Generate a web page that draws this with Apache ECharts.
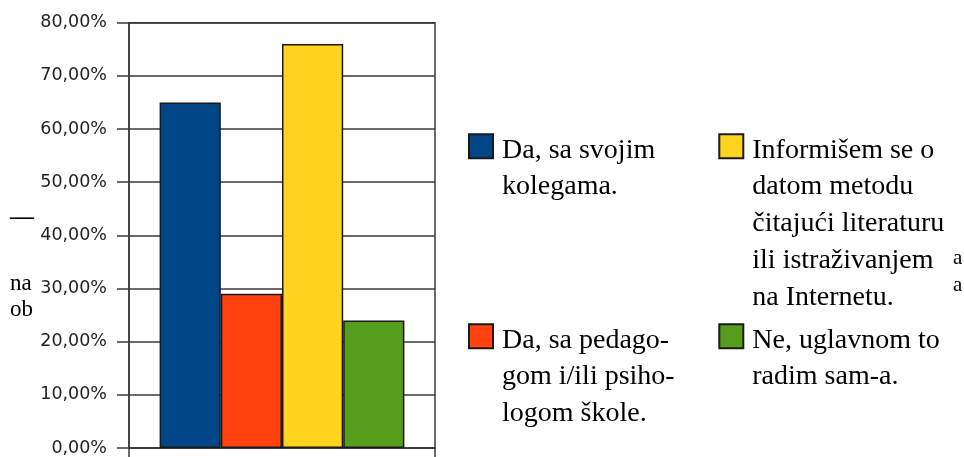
<!DOCTYPE html>
<html>
<head>
<meta charset="utf-8">
<script src="https://cdn.jsdelivr.net/npm/echarts@6/dist/echarts.min.js"></script>
<style>html,body{margin:0;padding:0;background:#fff}#c{width:964px;height:457px}</style>
</head>
<body>
<div id="c"></div>
<script>
// ---- data ----
var categories = [''];
var seriesNames = [
  'Da, sa svojim\nkolegama.',
  'Da, sa pedago-\ngom i/ili psiho-\nlogom škole.',
  'Informišem se o\ndatom metodu\nčitajući literaturu\nili istraživanjem\nna Internetu.',
  'Ne, uglavnom to\nradim sam-a.'
];
var blueValues = [0.65];
var orangeValues = [0.29];
var yellowValues = [0.76];
var greenValues = [0.24];
var yTickLabels = ['0,00%', '10,00%', '20,00%', '30,00%', '40,00%', '50,00%', '60,00%', '70,00%', '80,00%'];
var strayTexts = ['—', 'na', 'ob', 'a', 'a'];

// ---- styles ----
var colors = ['#004586', '#ff420e', '#ffd320', '#579d1c'];
var values = [blueValues, orangeValues, yellowValues, greenValues];
var lineCol = '#3a3a3a';
var LH = 36.7;
var SHIFT = 4; // text sits this much lower than icon centre
var CH = 457;
function legendFor(i, left, iconTop) {
  var lines = seriesNames[i].split('\n');
  var n = lines.length;
  var e = n > 1 ? 2 * SHIFT / (n - 1) : 0;
  var prefix = '';
  for (var j = 0; j < n - 1; j++) prefix += '{s|\u200b}\n';
  var H = (n - 1) * (LH + e) + n * LH;
  var bottomEdge = iconTop + 12 + H / 2;
  var base = {
    data: [seriesNames[i]],
    orient: 'horizontal',
    padding: 0,
    itemWidth: 24,
    itemHeight: 24,
    itemGap: 0,
    icon: 'rect',
    selectedMode: false,
    left: left,
    bottom: CH - bottomEdge,
    formatter: function (name) {
      return prefix + name.split('\n').map(function (l) { return '{t|' + l + '}'; }).join('\n');
    },
    textStyle: {
      fontFamily: 'Liberation Serif',
      fontSize: 28,
      color: '#000',
      rich: {
        s: { fontFamily: 'Liberation Serif', fontSize: 28, lineHeight: LH + e, color: '#000' },
        t: { fontFamily: 'Liberation Serif', fontSize: 28, lineHeight: LH, color: '#000', padding: [0, 0, 0, 4] }
      }
    }
  };
  return base;
}

var series = values.map(function (v, i) {
  return {
    name: seriesNames[i],
    type: 'bar',
    data: v,
    barGap: '0%',
    barCategoryGap: '20%',
    itemStyle: { color: colors[i], borderColor: '#1a1a1a', borderWidth: 1.5 }
  };
});

var chart = echarts.init(document.getElementById('c'), null, { renderer: 'canvas' });
chart.setOption({
  animation: false,
  backgroundColor: '#fff',
  grid: {
    left: 129, right: 529, top: 22.7, bottom: 8.7,
    show: true, borderColor: lineCol, borderWidth: 1.5, backgroundColor: 'transparent'
  },
  xAxis: {
    type: 'category',
    data: categories,
    axisLine: { show: true, lineStyle: { color: lineCol, width: 1.5 } },
    axisTick: { show: true, length: 10, lineStyle: { color: lineCol, width: 1.5 } },
    axisLabel: { show: false }
  },
  yAxis: {
    type: 'value',
    min: 0, max: 0.8, interval: 0.1,
    axisLine: { show: true, lineStyle: { color: lineCol, width: 1.5 } },
    axisTick: { show: true, length: 12, lineStyle: { color: lineCol, width: 1.5 } },
    splitLine: { show: true, lineStyle: { color: lineCol, width: 1.5 } },
    axisLabel: {
      margin: 22,
      fontFamily: 'DejaVu Sans',
      fontSize: 17.5,
      color: '#222',
      formatter: function (v) { return yTickLabels[Math.round(v * 10)]; }
    }
  },
  legend: [
    legendFor(0, 468, 130),
    legendFor(1, 468, 320),
    legendFor(2, 718.3, 130),
    legendFor(3, 718.3, 320)
  ],
  graphic: [
    { type: 'text', left: 10, top: 206, style: { text: strayTexts[0], font: 'bold 24px "Liberation Serif"', fill: '#000' } },
    { type: 'text', left: 10, top: 272, style: { text: strayTexts[1], font: '23px "Liberation Serif"', fill: '#000' } },
    { type: 'text', left: 10, top: 298, style: { text: strayTexts[2], font: '23px "Liberation Serif"', fill: '#000' } },
    { type: 'text', left: 953, top: 248, style: { text: strayTexts[3], font: '21px "Liberation Serif"', fill: '#000' } },
    { type: 'text', left: 953, top: 275, style: { text: strayTexts[4], font: '21px "Liberation Serif"', fill: '#000' } }
  ],
  series: series
});
</script>
</body>
</html>
